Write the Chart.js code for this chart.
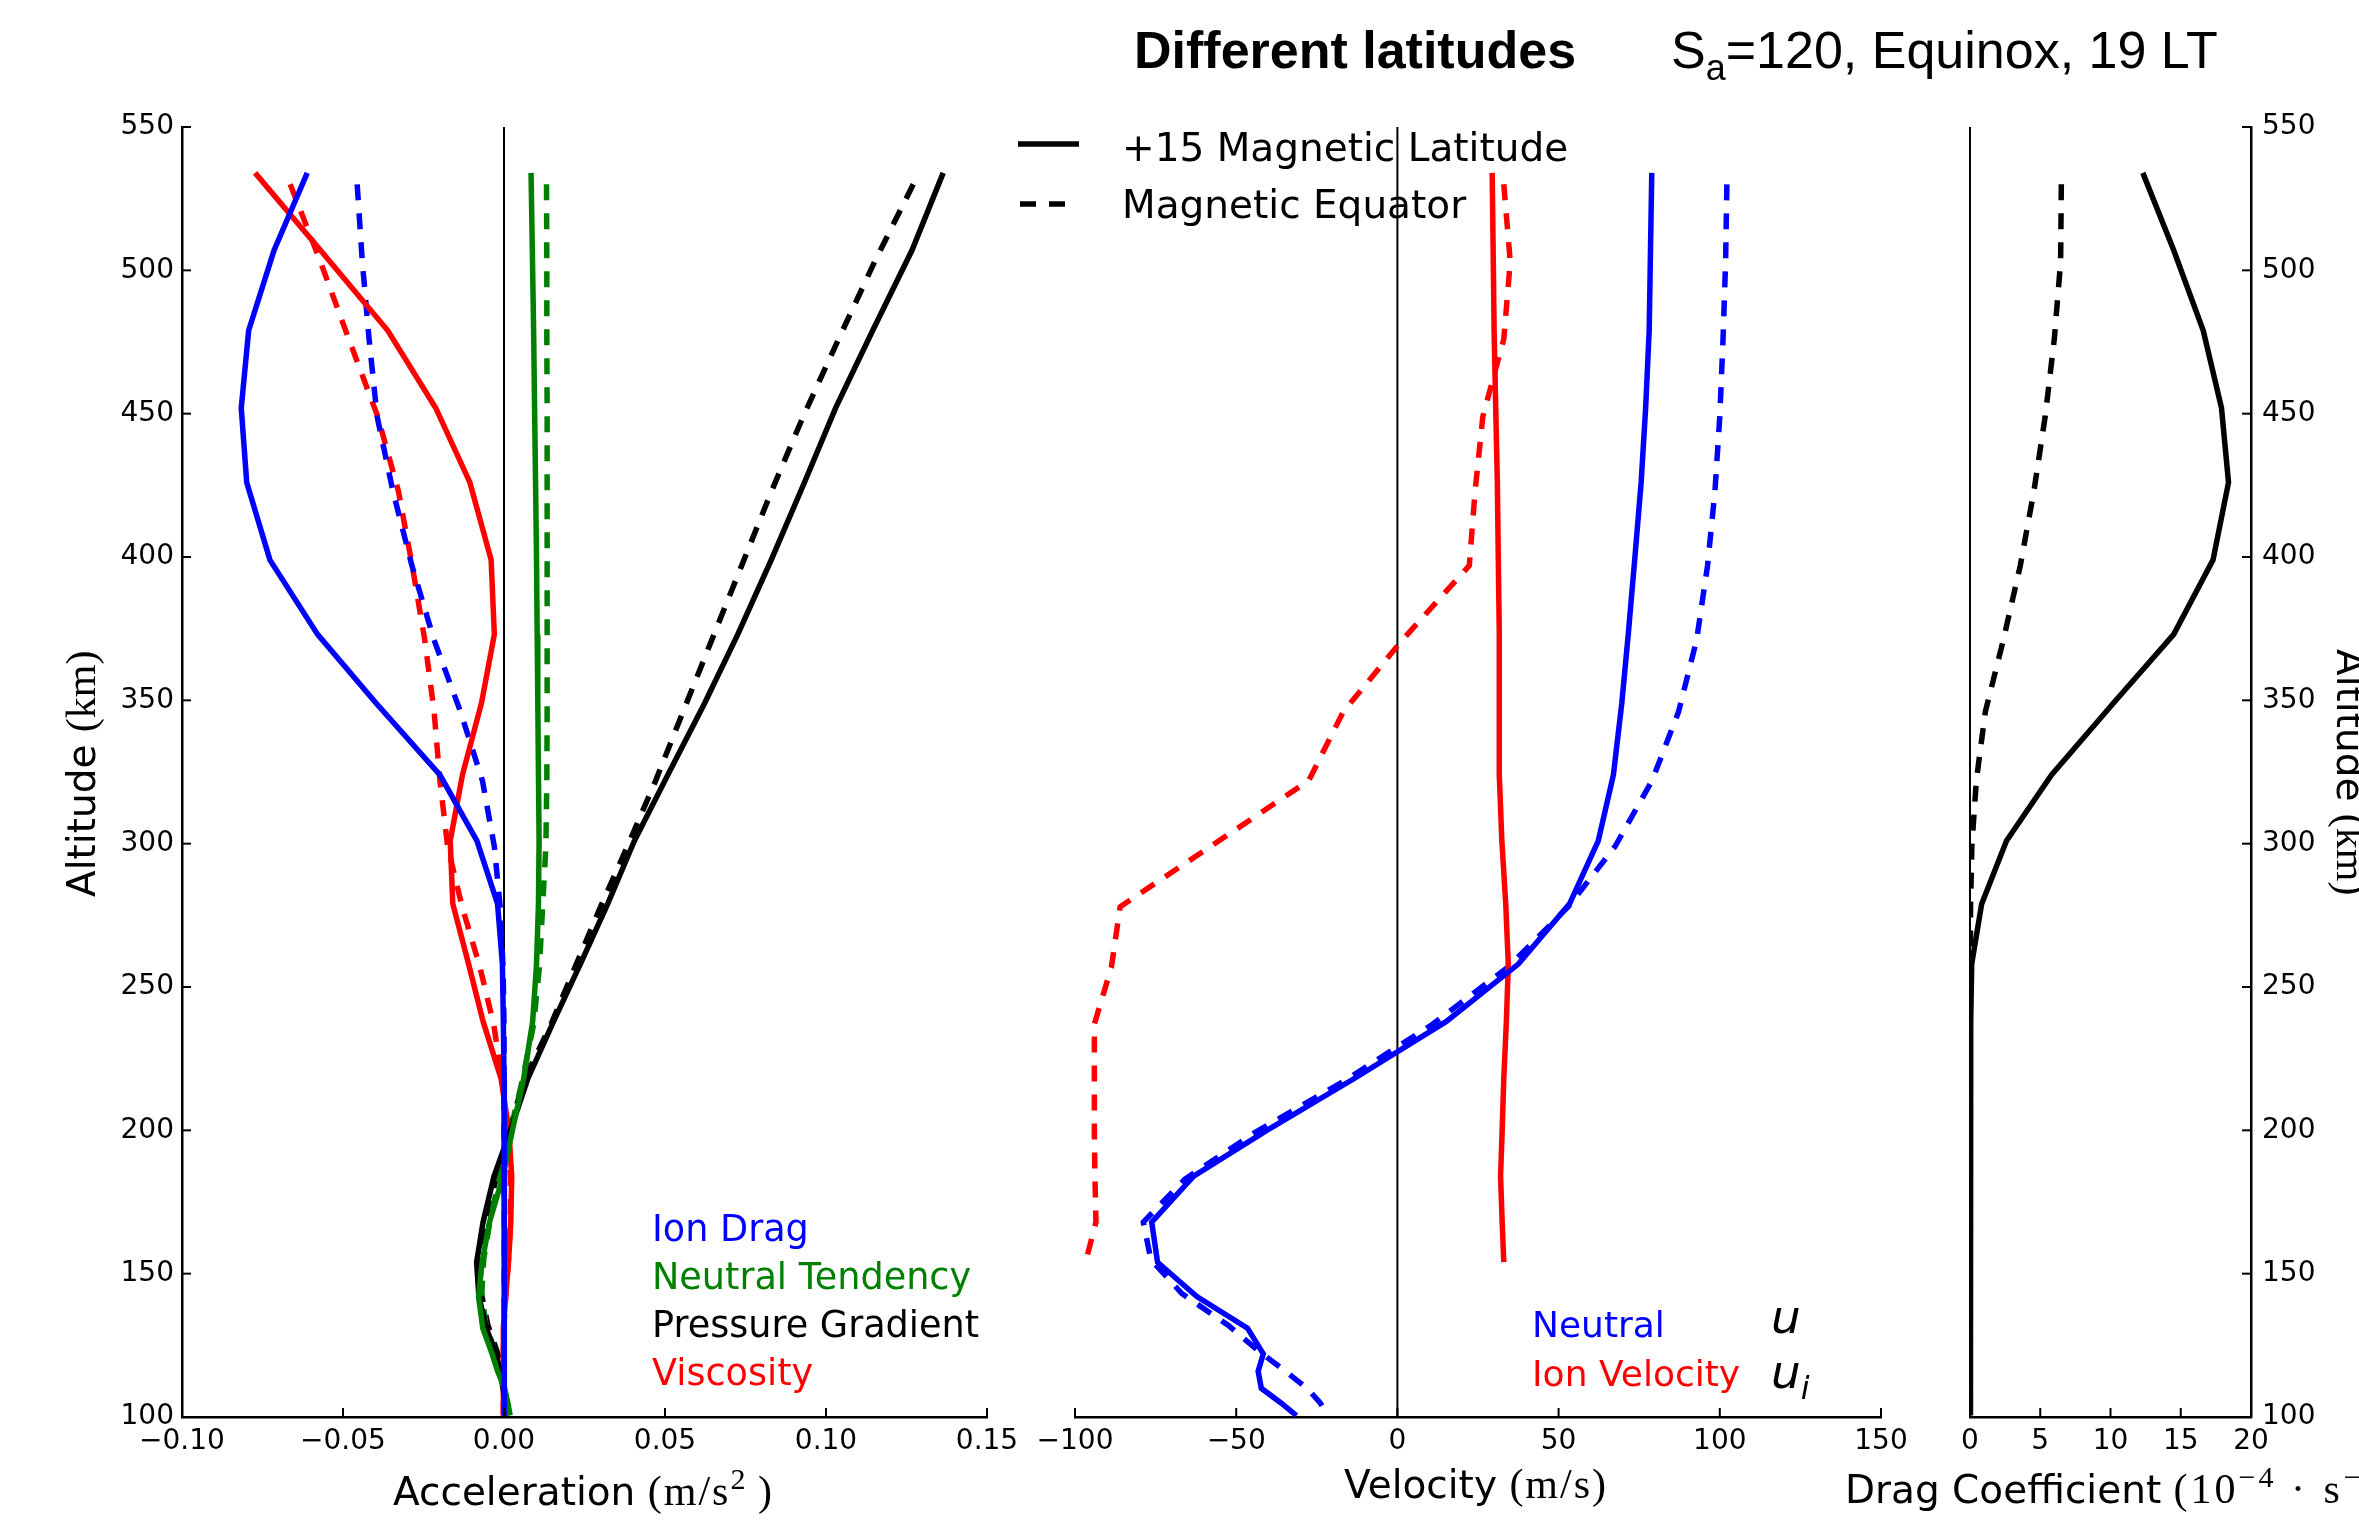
<!DOCTYPE html>
<html>
<head>
<meta charset="utf-8">
<script src="https://cdn.jsdelivr.net/npm/chart.js@4"></script>
<style>
  body { margin: 0; background: #fff; }
  #wrap { position: relative; width: 2359px; height: 1536px; overflow: hidden; background: #fff; }
  canvas { position: absolute; left: 0; top: 0; }
</style>
</head>
<body>
<div id="wrap">
  <canvas id="acc" width="2359" height="1536"></canvas>
  <canvas id="vel" width="2359" height="1536"></canvas>
  <canvas id="drag" width="2359" height="1536"></canvas>
</div>
<script>
// altitude levels (km) for the +15 mag. latitude profile and the magnetic equator profile
const altLat = [534, 507, 479, 452, 426, 399, 373, 349, 324, 301, 279, 258, 238, 218, 200, 184, 168, 154, 142, 131, 122, 116, 110, 105, 100.5];
const altEq  = [530, 503, 476, 449, 423, 397, 371, 346, 322, 299, 278, 257, 237, 217, 199, 183, 168, 155, 143, 132, 123, 116, 110, 105, 100.5];

// accelerations (m/s^2)
const ionDragLat   = [-0.0611, -0.0714, -0.0793, -0.0816, -0.0799, -0.0727, -0.0579, -0.0397, -0.0199, -0.0084, -0.0020, -0.0005, -0.0002, 0.0000, 0.0001, 0.0002, 0.0003, 0.0002, 0.0001, 0.0001, 0.0000, 0.0000, 0.0000, 0.0000, 0.0000];
const ionDragEq    = [-0.0456, -0.0440, -0.0419, -0.0394, -0.0345, -0.0286, -0.0217, -0.0135, -0.0067, -0.0030, -0.0012, -0.0003, 0.0000, 0.0000, 0.0000, 0.0001, 0.0001, 0.0001, 0.0001, 0.0000, 0.0000, 0.0000, 0.0000, 0.0000, 0.0000];
const tendencyLat  = [0.0084, 0.0088, 0.0092, 0.0095, 0.0098, 0.0101, 0.0103, 0.0105, 0.0107, 0.0109, 0.0107, 0.0101, 0.0089, 0.0061, 0.0026, -0.0003, -0.0045, -0.0068, -0.0079, -0.0066, -0.0037, -0.0020, 0.0002, 0.0012, 0.0019];
const tendencyEq   = [0.0132, 0.0133, 0.0133, 0.0134, 0.0134, 0.0134, 0.0134, 0.0134, 0.0133, 0.0130, 0.0120, 0.0110, 0.0092, 0.0056, 0.0018, -0.0015, -0.0044, -0.0063, -0.0069, -0.0056, -0.0028, -0.0008, 0.0000, 0.0008, 0.0016];
const pressureLat  = [0.1364, 0.1267, 0.1145, 0.1030, 0.0933, 0.0830, 0.0726, 0.0623, 0.0509, 0.0405, 0.0322, 0.0237, 0.0154, 0.0074, 0.0020, -0.0031, -0.0065, -0.0085, -0.0078, -0.0055, -0.0025, -0.0012, -0.0003, 0.0004, 0.0006];
const pressureEq   = [0.1271, 0.1151, 0.1039, 0.0929, 0.0831, 0.0738, 0.0645, 0.0556, 0.0471, 0.0383, 0.0300, 0.0221, 0.0146, 0.0060, 0.0015, -0.0025, -0.0058, -0.0074, -0.0070, -0.0050, -0.0022, -0.0006, 0.0002, 0.0004, 0.0005];
const viscosityLat = [-0.0773, -0.0570, -0.0361, -0.0212, -0.0106, -0.0040, -0.0030, -0.0070, -0.0129, -0.0167, -0.0159, -0.0110, -0.0065, -0.0009, 0.0015, 0.0024, 0.0021, 0.0014, 0.0005, -0.0002, -0.0002, -0.0002, -0.0002, -0.0002, -0.0002];
const viscosityEq  = [-0.0664, -0.0570, -0.0482, -0.0392, -0.0328, -0.0285, -0.0246, -0.0217, -0.0199, -0.0175, -0.0130, -0.0075, -0.0032, -0.0005, 0.0012, 0.0020, 0.0020, 0.0014, 0.0006, 0.0000, -0.0002, -0.0002, -0.0002, -0.0002, -0.0002];

// velocities (m/s); ion velocity only down to ~155 km
const neutralLat = [78.9, 78.5, 78.1, 77.0, 75.6, 73.6, 71.6, 69.6, 67.0, 62.3, 53.4, 37.5, 15.2, -13.5, -40.5, -63.2, -76.2, -74.4, -62.2, -46.5, -41.6, -43.2, -42.2, -36.2, -31.3];
const neutralEq  = [102.2, 101.8, 101.0, 100.0, 98.5, 96.2, 92.8, 87.2, 79.0, 67.5, 53.0, 34.4, 10.9, -16.8, -44.5, -65.9, -78.8, -76.5, -66.8, -52.5, -43.0, -34.8, -28.0, -24.0, -21.5];
const ionVelLat  = [29.4, 29.7, 30.0, 30.5, 31.0, 31.3, 31.6, 31.6, 31.6, 32.4, 33.6, 34.4, 33.8, 33.0, 32.5, 32.0, 32.5, 33.0];
const ionVelEq   = [33.0, 35.0, 33.0, 26.5, 24.1, 22.3, 1.5, -16.8, -27.5, -58.0, -86.0, -88.7, -94.0, -94.0, -94.0, -93.8, -93.5, -96.5];

// drag coefficient (1e-4 / s)
const dragLat = [12.3, 14.5, 16.6, 17.9, 18.4, 17.3, 14.5, 10.2, 5.8, 2.6, 0.83, 0.12, 0.05, 0.04, 0.04, 0.03, 0.03, 0.03, 0.03, 0.03, 0.03, 0.03, 0.03, 0.03, 0.03];
const dragEq  = [6.5, 6.45, 6.0, 5.35, 4.55, 3.58, 2.37, 1.09, 0.45, 0.13, 0.04, 0.02, 0.02, 0.02, 0.02, 0.02, 0.02, 0.02, 0.02, 0.02, 0.02, 0.02, 0.02, 0.02, 0.02];

const W = 2359, H = 1536;
const TOP = 127, BOTTOM = 1417;
const AXIS_BOX = 80; // space reserved for tick labels outside each plot
const BLUE = '#0000ff', GREEN = '#008000', RED = '#ff0000', BLACK = '#000000';
const SANS = '"DejaVu Sans"', SERIF = '"Liberation Serif"', ARIAL = '"Liberation Sans"';
const DASH = [16, 13];
const LW = 5.5;

function minus(v) { return String(v).replace('-', '\u2212'); }

function series(alts, vals, color, dashed) {
  return {
    data: vals.map((v, i) => ({x: v, y: alts[i]})),
    borderColor: color,
    borderWidth: LW,
    borderDash: dashed ? DASH : [],
    borderCapStyle: 'butt',
    pointRadius: 0,
    showLine: true,
    fill: false,
    tension: 0
  };
}

// draw a line of text made of several runs (font changes, super/subscripts)
// ls = extra spacing after each character (the serif maths parts run a bit wider)
function drawRuns(ctx, t) {
  ctx.save();
  ctx.translate(t.x, t.y);
  if (t.rot) ctx.rotate(t.rot);
  ctx.textAlign = 'left';
  ctx.textBaseline = 'alphabetic';
  let cx = 0;
  t.runs.forEach(r => {
    ctx.font = r.f;
    ctx.fillStyle = r.c || BLACK;
    const ls = r.ls || 0;
    if (!ls) {
      ctx.fillText(r.t, cx, r.dy || 0);
      cx += ctx.measureText(r.t).width;
    } else {
      for (const ch of r.t) {
        ctx.fillText(ch, cx, r.dy || 0);
        cx += ctx.measureText(ch).width + ls;
      }
    }
  });
  ctx.restore();
}

function makeDecor(cfg) {
  return {
    id: 'decor_' + cfg.name,
    beforeDatasetsDraw(chart) {
      const {ctx, chartArea: a} = chart;
      const x0 = chart.scales.x.getPixelForValue(0);
      ctx.save();
      ctx.strokeStyle = BLACK;
      ctx.lineWidth = 2;
      ctx.beginPath();
      ctx.moveTo(x0, a.top);
      ctx.lineTo(x0, a.bottom);
      ctx.stroke();
      ctx.restore();
    },
    afterDraw(chart) {
      const {ctx, chartArea: a} = chart;
      ctx.save();
      ctx.strokeStyle = BLACK;
      ctx.lineWidth = 2;
      cfg.tickAxes.forEach(id => {
        const s = chart.scales[id];
        s.ticks.forEach(tk => {
          const p = s.getPixelForValue(tk.value);
          ctx.beginPath();
          if (s.isHorizontal()) { ctx.moveTo(p, a.bottom); ctx.lineTo(p, a.bottom - 9); }
          else if (s.position === 'left') { ctx.moveTo(a.left, p); ctx.lineTo(a.left + 9, p); }
          else { ctx.moveTo(a.right, p); ctx.lineTo(a.right - 9, p); }
          ctx.stroke();
        });
      });
      if (cfg.legend) {
        ctx.lineWidth = LW;
        ctx.lineCap = 'butt';
        ctx.beginPath(); ctx.moveTo(1018, 144); ctx.lineTo(1079, 144); ctx.stroke();
        ctx.setLineDash(DASH);
        ctx.beginPath(); ctx.moveTo(1020, 204); ctx.lineTo(1066, 204); ctx.stroke();
        ctx.setLineDash([]);
      }
      ctx.restore();
      cfg.texts.forEach(t => drawRuns(ctx, t));
    }
  };
}

function panel(id, left, right, xMin, xMax, xStep, fmt, yPos, datasets, cfg) {
  const padL = yPos === 'left' ? left - AXIS_BOX : left;
  const padR = yPos === 'right' ? W - right - AXIS_BOX : W - right;
  return new Chart(document.getElementById(id), {
    type: 'scatter',
    data: {datasets},
    options: {
      responsive: false,
      animation: false,
      devicePixelRatio: 1,
      events: [],
      layout: {padding: {left: padL, right: padR, top: TOP, bottom: H - BOTTOM - AXIS_BOX}},
      plugins: {legend: {display: false}, tooltip: {enabled: false}},
      scales: {
        x: {
          type: 'linear', position: 'bottom', min: xMin, max: xMax,
          afterFit: s => { s.height = AXIS_BOX; },
          grid: {display: false, drawTicks: false},
          border: {display: true, color: BLACK, width: 2.5},
          ticks: {stepSize: xStep, autoSkip: false, maxRotation: 0, padding: 8, color: BLACK,
                  font: {family: SANS, size: 28}, callback: fmt}
        },
        y: {
          type: 'linear', position: yPos || 'left', display: !!yPos, min: 100, max: 550,
          afterFit: s => { s.width = yPos ? AXIS_BOX : 0; },
          grid: {display: false, drawTicks: false},
          border: {display: true, color: BLACK, width: 2.5},
          ticks: {stepSize: 50, autoSkip: false, padding: yPos === 'right' ? 11 : 8, color: BLACK,
                  font: {family: SANS, size: 28}}
        }
      }
    },
    plugins: [makeDecor(cfg)]
  });
}

const f39 = '39px ' + SANS, s42 = '42px ' + SERIF, s30 = '30px ' + SERIF;
const f36 = '36.6px ' + SANS;

panel('acc', 182, 987, -0.10, 0.15, 0.05, v => minus(Number(v).toFixed(2)), 'left', [
  series(altLat, ionDragLat, BLUE, false),
  series(altLat, tendencyLat, GREEN, false),
  series(altLat, pressureLat, BLACK, false),
  series(altLat, viscosityLat, RED, false),
  series(altEq, ionDragEq, BLUE, true),
  series(altEq, tendencyEq, GREEN, true),
  series(altEq, pressureEq, BLACK, true),
  series(altEq, viscosityEq, RED, true)
], {
  name: 'acc', tickAxes: ['x', 'y'], texts: [
    {x: 1134, y: 68, runs: [{t: 'Different latitudes', f: 'bold 52px ' + ARIAL}]},
    {x: 1671, y: 68, runs: [{t: 'S', f: '52px ' + ARIAL}, {t: 'a', f: '36px ' + ARIAL, dy: 12}, {t: '=120, Equinox, 19 LT', f: '52px ' + ARIAL}]},
    {x: 393, y: 1505, runs: [{t: 'Acceleration ', f: f39}, {t: '(m/s', f: s42, ls: 2}, {t: '2', f: s30, dy: -16}, {t: ' )', f: s42, ls: 2}]},
    {x: 95, y: 897, rot: -Math.PI / 2, runs: [{t: 'Altitude ', f: f39}, {t: '(km)', f: s42}]},
    {x: 652, y: 1241, runs: [{t: 'Ion Drag', f: f36, c: BLUE}]},
    {x: 652, y: 1289, runs: [{t: 'Neutral Tendency', f: f36, c: GREEN}]},
    {x: 652, y: 1337, runs: [{t: 'Pressure Gradient', f: f36, c: BLACK}]},
    {x: 652, y: 1385, runs: [{t: 'Viscosity', f: f36, c: RED}]}
  ]
});

panel('vel', 1075, 1881, -100, 150, 50, v => minus(v), null, [
  series(altLat, neutralLat, BLUE, false),
  series(altLat, ionVelLat, RED, false),
  series(altEq, neutralEq, BLUE, true),
  series(altEq, ionVelEq, RED, true)
], {
  name: 'vel', tickAxes: ['x'], legend: true, texts: [
    {x: 1122, y: 161, runs: [{t: '+15 Magnetic Latitude', f: f39}]},
    {x: 1122, y: 218, runs: [{t: 'Magnetic Equator', f: f39}]},
    {x: 1344, y: 1498, runs: [{t: 'Velocity ', f: f39}, {t: '(m/s)', f: s42, ls: 2}]},
    {x: 1532, y: 1337, runs: [{t: 'Neutral', f: '36px ' + SANS, c: BLUE}]},
    {x: 1532, y: 1386, runs: [{t: 'Ion Velocity', f: '36px ' + SANS, c: RED}]},
    {x: 1771, y: 1333, runs: [{t: 'u', f: 'italic 47px ' + SANS}]},
    {x: 1771, y: 1388, runs: [{t: 'u', f: 'italic 47px ' + SANS}, {t: 'i', f: 'italic 32px ' + SANS, dy: 11}]}
  ]
});

panel('drag', 1970, 2251, 0, 20, 5, v => String(v), 'right', [
  series(altLat, dragLat, BLACK, false),
  series(altEq, dragEq, BLACK, true)
], {
  name: 'drag', tickAxes: ['x', 'y'], texts: [
    {x: 1845, y: 1503, runs: [{t: 'Drag Coefficient ', f: f39}, {t: '(10', f: s42, ls: 3}, {t: '\u22124', f: s30, dy: -16, ls: 3}, {t: ' \u00b7 s', f: s42, ls: 4}, {t: '\u22121', f: s30, dy: -16, ls: 3}, {t: ')', f: s42}]},
    {x: 2337, y: 649, rot: Math.PI / 2, runs: [{t: 'Altitude ', f: f39}, {t: '(km)', f: s42}]}
  ]
});
</script>
</body>
</html>
